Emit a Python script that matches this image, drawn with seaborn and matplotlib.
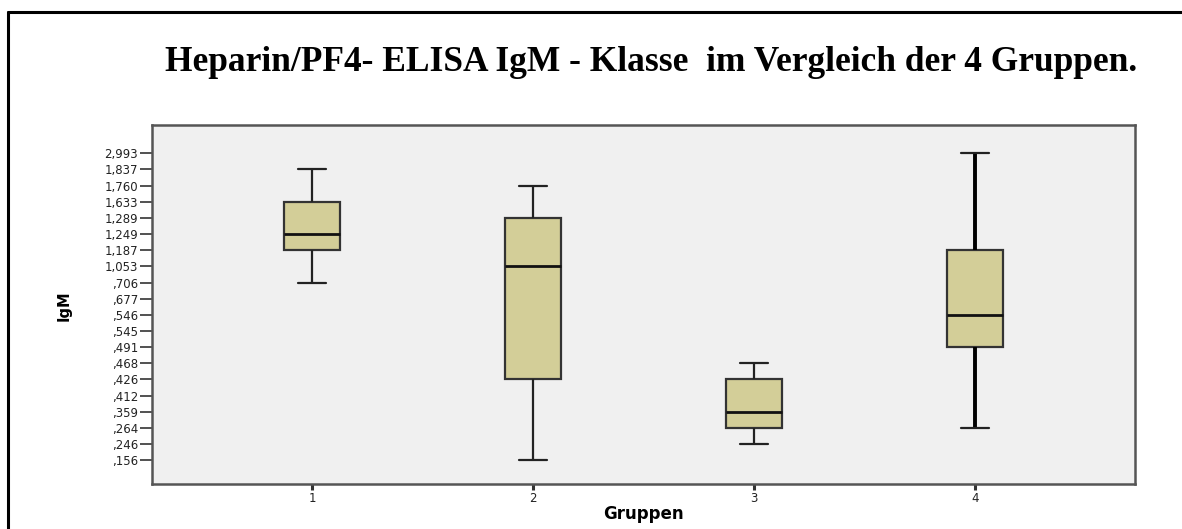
import matplotlib
matplotlib.use("Agg")
import matplotlib.pyplot as plt
import seaborn as sns
import pandas as pd
from matplotlib.lines import Line2D

# ---- data ----
groups = ["1", "2", "3", "4"]
# y axis is categorical in the reference (each distinct value gets one slot)
y_values = [0.156, 0.246, 0.264, 0.359, 0.412, 0.426, 0.468, 0.491, 0.545, 0.546,
            0.677, 0.706, 1.053, 1.187, 1.249, 1.289, 1.633, 1.760, 1.837, 2.993]
y_labels = [",156", ",246", ",264", ",359", ",412", ",426", ",468", ",491", ",545", ",546",
            ",677", ",706", "1,053", "1,187", "1,249", "1,289", "1,633", "1,760", "1,837", "2,993"]
# five-number summaries per group: min, q1, median, q3, max
g1 = [0.706, 1.187, 1.249, 1.633, 1.837]
g2 = [0.156, 0.426, 1.053, 1.289, 1.760]
g3 = [0.246, 0.264, 0.359, 0.426, 0.468]
g4 = [0.264, 0.491, 0.546, 1.187, 2.993]

rows = []
for g, vals in zip(groups, [g1, g2, g3, g4]):
    for v in vals:
        rows.append({"Gruppen": g, "pos": y_values.index(v)})
df = pd.DataFrame(rows)

sns.set_style("white")
plt.rcParams["font.family"] = ["DejaVu Sans"]

fig = plt.figure(figsize=(11.82, 5.29), dpi=100)
ax = fig.add_axes([0.1286, 0.0851, 0.9602 - 0.1286, 0.7637 - 0.0851])
ax.set_facecolor("#F0F0F0")

sns.boxplot(data=df, x="Gruppen", y="pos", order=groups, whis=(0, 100),
            width=0.255, color="#D3CE98", saturation=1, linecolor="#222222",
            linewidth=1.6, ax=ax,
            medianprops=dict(color="#111111", linewidth=2.0),
            whiskerprops=dict(color="#222222", linewidth=1.6),
            capprops=dict(color="#222222", linewidth=1.6),
            boxprops=dict(edgecolor="#333333", linewidth=1.6))

# group 4 whiskers drawn heavier in the reference
for ln in ax.lines:
    xd = ln.get_xdata()
    if len(xd) and abs(xd.mean() - 3) < 0.3 and len(set(xd)) == 1:
        ln.set_linewidth(2.8)
        ln.set_color("#000000")

ax.set_xlim(-0.724, 3.724)
ax.set_ylim(-1.47, 20.75)
ax.set_yticks(range(len(y_labels)))
ax.set_yticklabels(y_labels)
ax.tick_params(axis="y", direction="out", length=9, width=1.2, color="#333333",
               labelsize=8.5, labelcolor="#222222", pad=1, left=True)
ax.tick_params(axis="x", direction="out", length=4, width=2.2, color="#333333",
               labelsize=8.5, labelcolor="#222222", pad=2, bottom=True)
ax.set_xlabel("")
ax.set_ylabel("")
for s in ax.spines.values():
    s.set_visible(True)
    s.set_color("#555555")
    s.set_linewidth(1.8)

fig.text(0.054, 0.423, "IgM", rotation=90, ha="center", va="center",
         fontsize=10.5, fontweight="bold", color="black")
fig.text(0.5444, 0.028, "Gruppen", ha="center", va="center",
         fontsize=12, fontweight="bold", color="black")

fig.text(0.551, 0.881, "Heparin/PF4- ELISA IgM - Klasse  im Vergleich der 4 Gruppen.",
         ha="center", va="center", fontsize=25.5, fontweight="bold", color="black",
         family=["Liberation Serif", "DejaVu Serif"])

# page frame lines (top and left)
fig.add_artist(Line2D([8 / 1182, 1.0], [1 - 12 / 529, 1 - 12 / 529],
                      transform=fig.transFigure, color="black", linewidth=2.2))
fig.add_artist(Line2D([8 / 1182, 8 / 1182], [0.0, 1 - 12 / 529],
                      transform=fig.transFigure, color="black", linewidth=2.2))

fig.savefig("out.png", dpi=100)
